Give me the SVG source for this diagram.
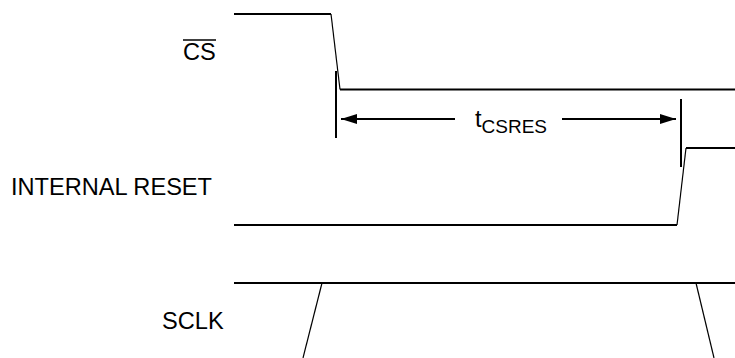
<svg xmlns="http://www.w3.org/2000/svg" width="735" height="358" viewBox="0 0 735 358">
<style>
.lbl{font-family:"Liberation Sans",Arial,sans-serif;font-size:23.6px;fill:#000}
.sig{stroke:#000;stroke-width:2;fill:none}
.edge{stroke:#000;stroke-width:1.2;fill:none}
.mark{stroke:#000;stroke-width:2;fill:none}
</style>
<defs>
<marker id="ah" viewBox="0 0 16 10" refX="16" refY="5" markerWidth="16" markerHeight="10" markerUnits="userSpaceOnUse" orient="auto">
<path d="M0,0 L16,5 L0,10 Z" fill="#000"/>
</marker>
</defs>
<rect width="735" height="358" fill="#fff"/>
<g id="cs">
<text class="lbl" x="183" y="60">CS</text>
<line x1="183" y1="40" x2="216" y2="40" stroke="#000" stroke-width="1.5"/>
<polyline class="sig" points="234,14 331,14"/>
<line class="edge" x1="331" y1="14" x2="340" y2="89.5"/>
<polyline class="sig" points="340,89.5 735,89.5"/>
</g>
<g id="internal-reset">
<text class="lbl" x="11" y="195">INTERNAL RESET</text>
<polyline class="sig" points="234,225 677,225"/>
<line class="edge" x1="677" y1="225" x2="686" y2="148"/>
<polyline class="sig" points="686,148 735,148"/>
</g>
<g id="sclk">
<text class="lbl" x="162" y="329">SCLK</text>
<line class="sig" x1="234" y1="283" x2="735" y2="283"/>
<line class="edge" x1="322" y1="283" x2="303" y2="358"/>
<line class="edge" x1="696" y1="283" x2="714" y2="358"/>
</g>
<g id="connectors">
<line class="mark" x1="336" y1="71" x2="336" y2="138"/>
<line class="mark" x1="681" y1="99" x2="681" y2="167"/>
<line class="mark" x1="455" y1="119" x2="341" y2="119" marker-end="url(#ah)"/>
<line class="mark" x1="562" y1="119" x2="676" y2="119" marker-end="url(#ah)"/>
</g>
<g id="t-csres">
<text class="lbl" x="475" y="127">t<tspan font-size="19" dy="6">CSRES</tspan></text>
</g>
</svg>
